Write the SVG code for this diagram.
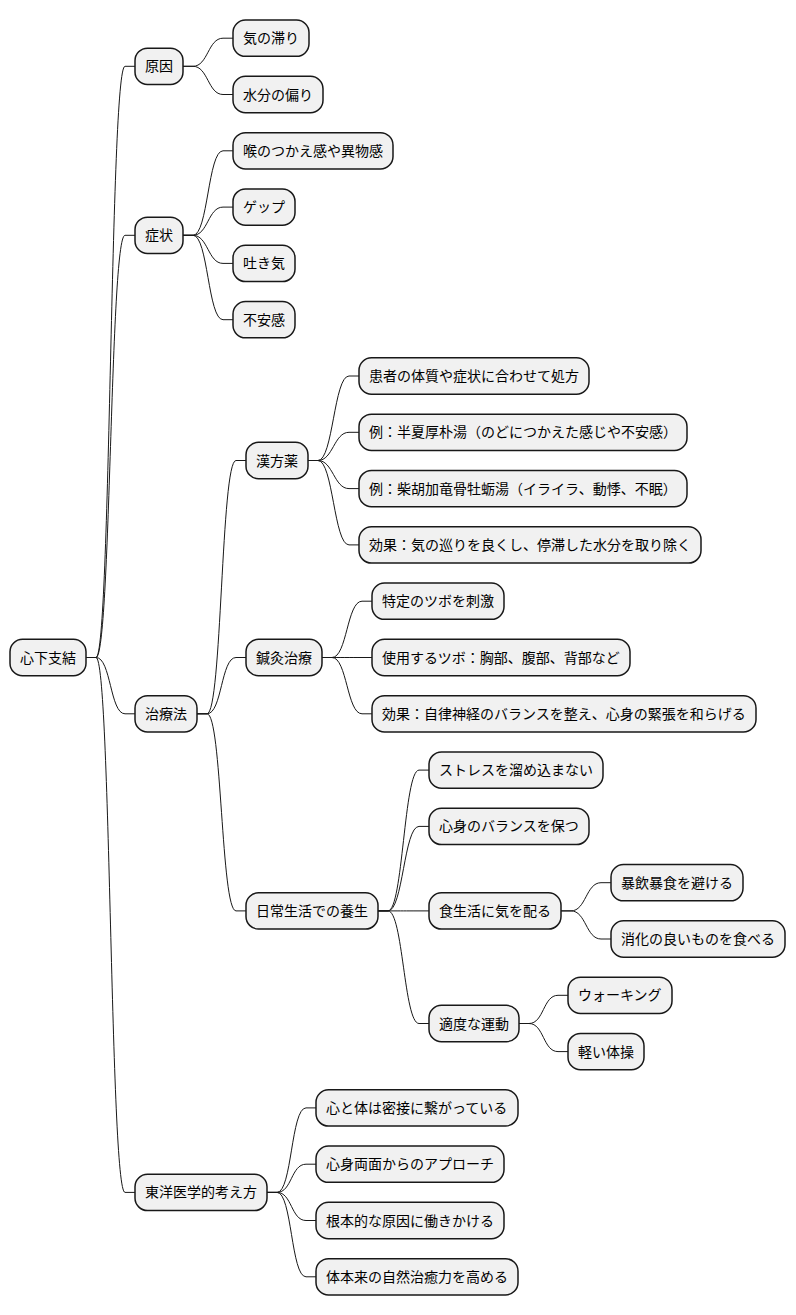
<svg xmlns="http://www.w3.org/2000/svg" width="796" height="1315" viewBox="0 0 796 1315">
<style>
.n rect{fill:#F1F1F1;stroke:#181818;stroke-width:1.5}
.n text{font-family:"Noto Sans CJK JP","Noto Sans",sans-serif;font-size:14px;fill:#000}
#edges path{fill:none;stroke:#181818;stroke-width:1}
</style>
<rect width="796" height="1315" fill="#FFFFFF"/>
<g id="edges">
<path d="M86 657.5 H96 C111 657.5 110 66.3 125 66.3 H135"/>
<path d="M86 657.5 H96 C111 657.5 110 235.3 125 235.3 H135"/>
<path d="M86 657.5 H96 C111 657.5 110 713.8 125 713.8 H135"/>
<path d="M86 657.5 H96 C111 657.5 110 1192.4 125 1192.4 H135"/>
<path d="M183 66.3 H193 C208 66.3 208 38.2 223 38.2 H233"/>
<path d="M183 66.3 H193 C208 66.3 208 94.5 223 94.5 H233"/>
<path d="M183 235.3 H193 C208 235.3 208 150.8 223 150.8 H233"/>
<path d="M183 235.3 H193 C208 235.3 208 207.1 223 207.1 H233"/>
<path d="M183 235.3 H193 C208 235.3 208 263.4 223 263.4 H233"/>
<path d="M183 235.3 H193 C208 235.3 208 319.7 223 319.7 H233"/>
<path d="M197 713.8 H207 C222 713.8 221 460.5 236 460.5 H246"/>
<path d="M197 713.8 H207 C222 713.8 221 657.5 236 657.5 H246"/>
<path d="M197 713.8 H207 C222 713.8 221 910.9 236 910.9 H246"/>
<path d="M267 1192.4 H277 C292 1192.4 291 1107.9 306 1107.9 H316"/>
<path d="M267 1192.4 H277 C292 1192.4 291 1164.2 306 1164.2 H316"/>
<path d="M267 1192.4 H277 C292 1192.4 291 1220.5 306 1220.5 H316"/>
<path d="M267 1192.4 H277 C292 1192.4 291 1276.8 306 1276.8 H316"/>
<path d="M308 460.5 H318 C333 460.5 334 376 349 376 H359"/>
<path d="M308 460.5 H318 C333 460.5 334 432.3 349 432.3 H359"/>
<path d="M308 460.5 H318 C333 460.5 334 488.6 349 488.6 H359"/>
<path d="M308 460.5 H318 C333 460.5 334 544.9 349 544.9 H359"/>
<path d="M322 657.5 H332 C347 657.5 347 601.2 362 601.2 H372"/>
<path d="M322 657.5 H332 C347 657.5 347 657.5 362 657.5 H372"/>
<path d="M322 657.5 H332 C347 657.5 347 713.8 362 713.8 H372"/>
<path d="M378 910.9 H388 C403 910.9 404 770.1 419 770.1 H429"/>
<path d="M378 910.9 H388 C403 910.9 404 826.4 419 826.4 H429"/>
<path d="M378 910.9 H388 C403 910.9 404 910.9 419 910.9 H429"/>
<path d="M378 910.9 H388 C403 910.9 404 1023.5 419 1023.5 H429"/>
<path d="M561 910.9 H571 C586 910.9 586 882.7 601 882.7 H611"/>
<path d="M561 910.9 H571 C586 910.9 586 939 601 939 H611"/>
<path d="M519 1023.5 H529 C544 1023.5 543 995.3 558 995.3 H568"/>
<path d="M519 1023.5 H529 C544 1023.5 543 1051.6 558 1051.6 H568"/>
</g>
<g id="root" class="n"><rect x="10" y="639.35" width="76" height="36.3" rx="12.5"/><text x="20" y="662.5">心下支結</text></g>
<g id="n_genin" class="n"><rect x="135" y="48.15" width="48" height="36.3" rx="12.5"/><text x="145" y="71.3">原因</text></g>
<g id="n_ki" class="n"><rect x="233" y="20.05" width="76" height="36.3" rx="12.5"/><text x="243" y="43.2">気の滞り</text></g>
<g id="n_suibun" class="n"><rect x="233" y="76.35" width="90" height="36.3" rx="12.5"/><text x="243" y="99.5">水分の偏り</text></g>
<g id="n_shojo" class="n"><rect x="135" y="217.15" width="48" height="36.3" rx="12.5"/><text x="145" y="240.3">症状</text></g>
<g id="n_nodo" class="n"><rect x="233" y="132.65" width="160" height="36.3" rx="12.5"/><text x="243" y="155.8">喉のつかえ感や異物感</text></g>
<g id="n_gep" class="n"><rect x="233" y="188.95" width="62" height="36.3" rx="12.5"/><text x="243" y="212.1">ゲップ</text></g>
<g id="n_hakike" class="n"><rect x="233" y="245.25" width="62" height="36.3" rx="12.5"/><text x="243" y="268.4">吐き気</text></g>
<g id="n_fuan" class="n"><rect x="233" y="301.55" width="62" height="36.3" rx="12.5"/><text x="243" y="324.7">不安感</text></g>
<g id="n_chiryo" class="n"><rect x="135" y="695.65" width="62" height="36.3" rx="12.5"/><text x="145" y="718.8">治療法</text></g>
<g id="n_kampo" class="n"><rect x="246" y="442.35" width="62" height="36.3" rx="12.5"/><text x="256" y="465.5">漢方薬</text></g>
<g id="n_kanja" class="n"><rect x="359" y="357.85" width="230" height="36.3" rx="12.5"/><text x="369" y="381">患者の体質や症状に合わせて処方</text></g>
<g id="n_rei1" class="n"><rect x="359" y="414.15" width="328" height="36.3" rx="12.5"/><text x="369" y="437.3">例：半夏厚朴湯（のどにつかえた感じや不安感）</text></g>
<g id="n_rei2" class="n"><rect x="359" y="470.45" width="328" height="36.3" rx="12.5"/><text x="369" y="493.6">例：柴胡加竜骨牡蛎湯（イライラ、動悸、不眠）</text></g>
<g id="n_koka1" class="n"><rect x="359" y="526.75" width="342" height="36.3" rx="12.5"/><text x="369" y="549.9">効果：気の巡りを良くし、停滞した水分を取り除く</text></g>
<g id="n_shinkyu" class="n"><rect x="246" y="639.35" width="76" height="36.3" rx="12.5"/><text x="256" y="662.5">鍼灸治療</text></g>
<g id="n_tokutei" class="n"><rect x="372" y="583.05" width="132" height="36.3" rx="12.5"/><text x="382" y="606.2">特定のツボを刺激</text></g>
<g id="n_shiyo" class="n"><rect x="372" y="639.35" width="258" height="36.3" rx="12.5"/><text x="382" y="662.5">使用するツボ：胸部、腹部、背部など</text></g>
<g id="n_koka2" class="n"><rect x="372" y="695.65" width="384" height="36.3" rx="12.5"/><text x="382" y="718.8">効果：自律神経のバランスを整え、心身の緊張を和らげる</text></g>
<g id="n_nichijo" class="n"><rect x="246" y="892.75" width="132" height="36.3" rx="12.5"/><text x="256" y="915.9">日常生活での養生</text></g>
<g id="n_stress" class="n"><rect x="429" y="751.95" width="174" height="36.3" rx="12.5"/><text x="439" y="775.1">ストレスを溜め込まない</text></g>
<g id="n_balance" class="n"><rect x="429" y="808.25" width="160" height="36.3" rx="12.5"/><text x="439" y="831.4">心身のバランスを保つ</text></g>
<g id="n_shoku" class="n"><rect x="429" y="892.75" width="132" height="36.3" rx="12.5"/><text x="439" y="915.9">食生活に気を配る</text></g>
<g id="n_bouin" class="n"><rect x="611" y="864.55" width="132" height="36.3" rx="12.5"/><text x="621" y="887.7">暴飲暴食を避ける</text></g>
<g id="n_shoka" class="n"><rect x="611" y="920.85" width="174" height="36.3" rx="12.5"/><text x="621" y="944">消化の良いものを食べる</text></g>
<g id="n_undo" class="n"><rect x="429" y="1005.35" width="90" height="36.3" rx="12.5"/><text x="439" y="1028.5">適度な運動</text></g>
<g id="n_walk" class="n"><rect x="568" y="977.15" width="104" height="36.3" rx="12.5"/><text x="578" y="1000.3">ウォーキング</text></g>
<g id="n_taiso" class="n"><rect x="568" y="1033.45" width="76" height="36.3" rx="12.5"/><text x="578" y="1056.6">軽い体操</text></g>
<g id="n_toyo" class="n"><rect x="135" y="1174.25" width="132" height="36.3" rx="12.5"/><text x="145" y="1197.4">東洋医学的考え方</text></g>
<g id="n_kokoro" class="n"><rect x="316" y="1089.75" width="202" height="36.3" rx="12.5"/><text x="326" y="1112.9">心と体は密接に繋がっている</text></g>
<g id="n_ryomen" class="n"><rect x="316" y="1146.05" width="188" height="36.3" rx="12.5"/><text x="326" y="1169.2">心身両面からのアプローチ</text></g>
<g id="n_konpon" class="n"><rect x="316" y="1202.35" width="188" height="36.3" rx="12.5"/><text x="326" y="1225.5">根本的な原因に働きかける</text></g>
<g id="n_shizen" class="n"><rect x="316" y="1258.65" width="202" height="36.3" rx="12.5"/><text x="326" y="1281.8">体本来の自然治癒力を高める</text></g>
</svg>
